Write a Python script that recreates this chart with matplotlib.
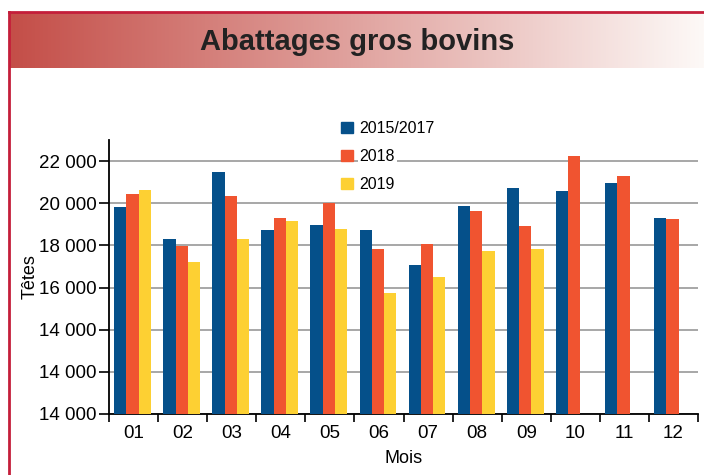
import matplotlib.pyplot as plt
import numpy as np
from matplotlib.lines import Line2D
from matplotlib.patches import Patch

plt.rcParams['font.family'] = ['Liberation Sans', 'DejaVu Sans']

months = ['01', '02', '03', '04', '05', '06', '07', '08', '09', '10', '11', '12']
s_2015_2017 = [19820, 18290, 21470, 18720, 18970, 18720, 17060, 19870, 20700, 20570, 20960, 19290]
s_2018 = [20460, 17960, 20320, 19300, 20020, 17840, 18070, 19620, 18910, 22240, 21300, 19230]
s_2019 = [20650, 17190, 18290, 19180, 18800, 15730, 16490, 17710, 17820, np.nan, np.nan, np.nan]
labels = ['2015/2017', '2018', '2019']
colors = ['#05508a', '#f05430', '#fdd033']

ytick_vals = [10000, 12000, 14000, 16000, 18000, 20000, 22000]
ytick_labels = ['14 000', '14 000', '14 000', '16 000', '18 000', '20 000', '22 000']

W, H = 704, 475
fig = plt.figure(figsize=(W / 100, H / 100), dpi=100)

# title band with gradient
band = fig.add_axes([10 / W, (H - 68) / H, 1 - 10 / W, 55 / H])
grad = np.linspace(0, 1, 256)
c0 = np.array([196, 78, 72]) / 255
c1 = np.array([253, 249, 247]) / 255
img = c0[None, :] * (1 - grad[:, None]) + c1[None, :] * grad[:, None]
band.imshow(img[None, :, :], aspect='auto', extent=[0, 1, 0, 1])
band.set_axis_off()
band.text(0.5, 0.48, 'Abattages gros bovins', ha='center', va='center',
          fontsize=21, fontweight='bold', color='#222222', transform=band.transAxes)

# red frame
red = '#c41e3a'
fig.add_artist(Line2D([9 / W, 1], [(H - 12) / H, (H - 12) / H], color=red, lw=2))
fig.add_artist(Line2D([9 / W, 9 / W], [0, (H - 12) / H], color=red, lw=2))

ax = fig.add_axes([109 / W, (H - 414) / H, 589 / W, 274 / H])
x = np.arange(len(months))
w = 0.25
for i, (vals, c) in enumerate(zip([s_2015_2017, s_2018, s_2019], colors)):
    ax.bar(x + (i - 1) * w - 0.02, vals, width=w, color=c, label=labels[i], zorder=3)

ax.set_xlim(-0.5, len(months) - 0.5)
ax.set_ylim(10000, 23000)
ax.set_yticks(ytick_vals)
ax.set_yticklabels(ytick_labels)
ax.set_xticks(x)
ax.set_xticklabels(months)
ax.set_xticks(np.arange(len(months) + 1) - 0.5, minor=True)
ax.tick_params(axis='x', which='major', length=0, labelsize=13.5, pad=8)
ax.tick_params(axis='x', which='minor', length=6, width=1.2)
ax.tick_params(axis='y', length=7, width=1.2, labelsize=13.5, pad=2)
ax.yaxis.grid(True, color='#a0a0a0', lw=1.3, zorder=0)
for s in ['top', 'right']:
    ax.spines[s].set_visible(False)
for s in ['left', 'bottom']:
    ax.spines[s].set_linewidth(1.3)
ax.set_ylabel('Têtes', fontsize=13, labelpad=0)
ax.set_xlabel('Mois', fontsize=13, labelpad=6)

handles = [Patch(color=c) for c in colors]
leg = ax.legend(handles, labels, loc='upper left', bbox_to_anchor=(327 / W, (H - 107) / H),
                bbox_transform=fig.transFigure, frameon=False, fontsize=11.5,
                handlelength=0.7, handleheight=0.7, handletextpad=0.45, labelspacing=0.8)
for t in leg.get_texts():
    t.set_bbox(dict(facecolor='white', edgecolor='none', pad=1))

fig.savefig('out.png', dpi=100)
